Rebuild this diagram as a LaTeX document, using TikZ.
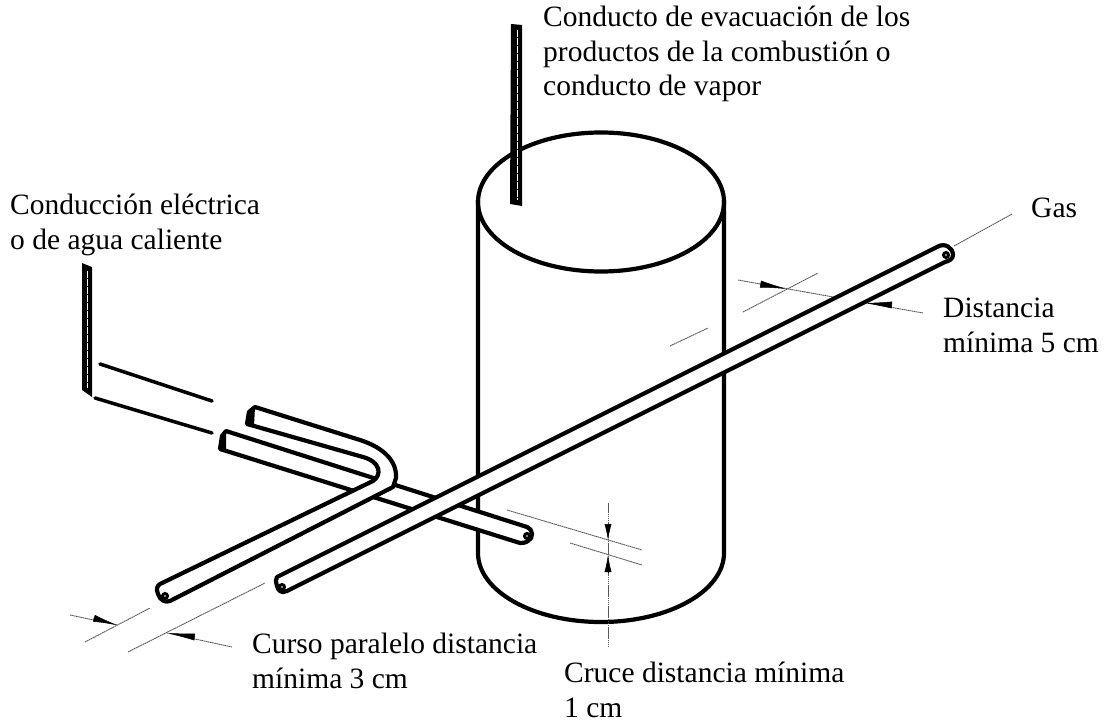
\documentclass[tikz,border=0pt]{standalone}
\usepackage{fontspec}
\setmainfont{Liberation Serif}
\usetikzlibrary{arrows.meta}
\begin{document}
\begin{tikzpicture}[x=1pt,y=-1pt]
        \tikzset{outline/.style={line width=4.2pt, line join=round, line cap=round},
                 tube/.style={outline, fill=white},
                 dimline/.style={line width=.9pt, black!65, dash pattern=on 1.6pt off .5pt},
                 tip/.style={line width=.5pt, -{Latex[length=#1, width=7pt]}},
                 duct/.style={fill=black, line join=round},
                 ductcore/.style={white, line width=.9pt, dash pattern=on 7pt off 1pt},
                 tubeend/.style={line width=3pt, fill=white},
                 lbl/.style={anchor=base west, inner sep=0, align=left, font=\fontsize{29.5}{34.5}\selectfont}}
        \useasboundingbox (0,0) rectangle (1108,722);

        % cylinder
        \draw[outline] (601,202) ellipse [x radius=123, y radius=69.5];
        \draw[outline] (478,200) -- (478,553) arc [start angle=180, end angle=0, x radius=123, y radius=69] -- (724,200);

        % dimension lines behind the tubes
        \draw[dimline] (954,246) -- (1012,214);
        \draw[dimline] (738,280) -- (923,313);
        \draw[dimline] (743,312) -- (818,273);
        \draw[dimline] (670,346) -- (708,328);
        \draw[dimline] (70,615) -- (117,625);
        \draw[dimline] (167,633) -- (232,647);
        \draw[dimline] (85,642) -- (150,608);
        \draw[dimline] (128,652) -- (265,583);
        \draw[dimline] (507,510) -- (642,550);
        \draw[dimline] (570,543) -- (642,565);
        \draw[dimline] (608,503) -- (608,646);

        % arrow heads
        \draw[tip=27pt] (760,284) -- (787,289);
        \draw[tip=27pt] (892,305) -- (865,303);
        \draw[tip=24pt] (93,618) -- (117,625);
        \draw[tip=28pt] (195,637) -- (167,633);
        \draw[tip=16pt] (608,524) -- (608,540);
        \draw[tip=17pt] (608,572) -- (608,555);

        % electric line, broken off
        \draw[outline, line width=3.5pt] (100,364) -- (212,401);
        \draw[outline, line width=3.5pt] (95,398) -- (212,433);

        % straight tube
        \draw[tube] (220,449) -- (222,436) -- (226,431) -- (527,527)
            .. controls (533,529) and (534,538) .. (528,541)
            .. controls (525,543) and (522,543) .. (520,543) -- cycle;
        \fill (220,449) -- (221,436) -- (226,431) -- (226,450) -- cycle;
        \draw[tubeend] (527,536) circle (2.5);

        % bent tube
        \draw[tube] (247,424) -- (249,412) -- (255,407) -- (360,440)
            .. controls (385,448) and (397,462) .. (396,478) -- (393,487) -- (170,601)
            .. controls (165,603) and (160,600) .. (158,594)
            .. controls (156,589) and (157,586) .. (160,584) -- (373,481)
            .. controls (382,475) and (381,462) .. (363,457) -- cycle;
        \fill (247,424) -- (248,412) -- (255,407) -- (254,426) -- cycle;
        \draw[tubeend] (165,596) circle (2.5);

        % gas tube
        \draw[tube] (277,577) -- (937,247)
            .. controls (945,242) and (953,248) .. (953,255)
            .. controls (953,259) and (949,261) .. (945,262) -- (287,591)
            .. controls (281,594) and (278,590) .. (277,586)
            .. controls (276,582) and (275,579) .. (277,577) -- cycle;
        \draw[tubeend] (282,587) circle (2.5);
        \draw[tubeend] (946,255) circle (2.5);

        % vertical ducts
        \fill[duct] (511,24) -- (522,25) -- (522,206) -- (510,204) -- cycle;
        \draw[ductcore] (517,30) -- (517,200);
        \fill[duct] (82,263) -- (92,267) -- (92,397) -- (82,390) -- cycle;
        \draw[ductcore] (87.5,271) -- (87.5,388);

        \node[lbl] (flue) at (543,96) {Conducto de evacuación de los\\productos de la combustión o\\conducto de vapor};
        \node[lbl] (wire) at (10,249) {Conducción eléctrica\\o de agua caliente};
        \node[lbl] (gas) at (1031,218) {Gas};
        \node[lbl] (gap) at (943,352) {Distancia\\mínima 5 cm};
        \node[lbl] (parallel) at (252,688) {Curso paralelo distancia\\mínima 3 cm};
        \node[lbl] (crossing) at (564,717) {Cruce distancia mínima\\1 cm};
    \end{tikzpicture}
\end{document}
